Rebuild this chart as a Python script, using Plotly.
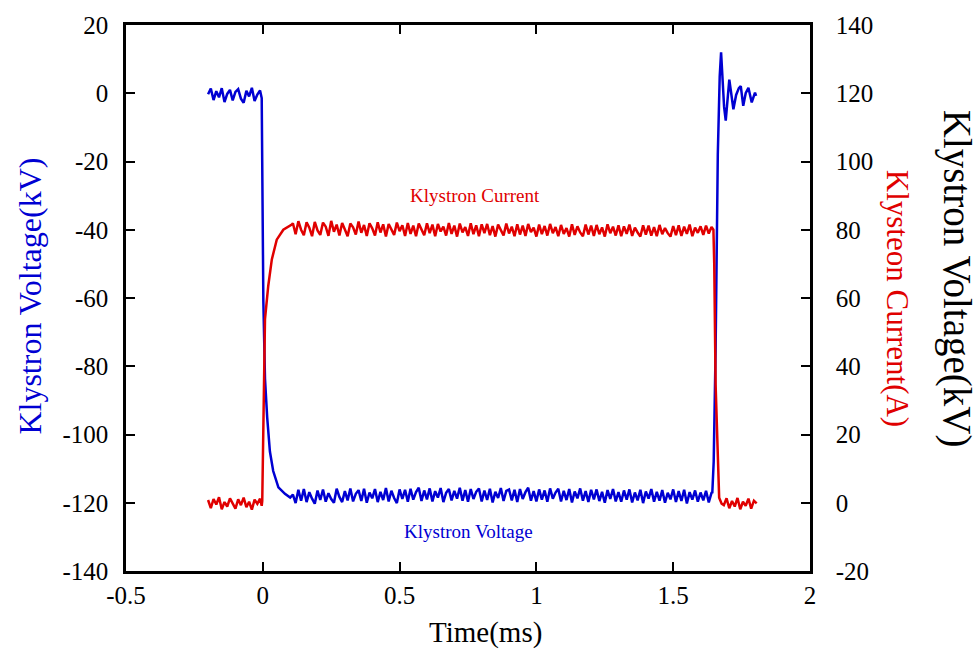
import plotly.graph_objects as go

# ---------------- data ----------------
# Klystron voltage (kV, left axis)
v_pre_t = [-0.20, -0.19, -0.18, -0.17, -0.16, -0.15, -0.14, -0.13, -0.12, -0.11,
           -0.10, -0.09, -0.08, -0.07, -0.06, -0.05, -0.04, -0.03, -0.02, -0.01, -0.004]
v_pre = [-0.3, 1.4, -2.0, 0.6, -1.2, 1.5, -2.6, -0.2, 1.0, -2.1,
         0.4, 1.2, -1.6, -2.8, 0.7, -0.9, 1.6, -2.3, -0.4, 0.8, -1.4]

v_fall_t = [-0.002, 0.002, 0.008, 0.016, 0.026, 0.038, 0.057, 0.081, 0.10]
v_fall = [-17.7, -61.0, -83.6, -95.0, -105.0, -110.7, -115.5, -117.4, -118.5]

flat_t = [0.11, 0.12, 0.13, 0.14, 0.15, 0.16, 0.17, 0.18, 0.19, 0.20,
          0.21, 0.22, 0.23, 0.24, 0.25, 0.26, 0.27, 0.28, 0.29, 0.30,
          0.31, 0.32, 0.33, 0.34, 0.35, 0.36, 0.37, 0.38, 0.39, 0.40,
          0.41, 0.42, 0.43, 0.44, 0.45, 0.46, 0.47, 0.48, 0.49, 0.50,
          0.51, 0.52, 0.53, 0.54, 0.55, 0.56, 0.57, 0.58, 0.59, 0.60,
          0.61, 0.62, 0.63, 0.64, 0.65, 0.66, 0.67, 0.68, 0.69, 0.70,
          0.71, 0.72, 0.73, 0.74, 0.75, 0.76, 0.77, 0.78, 0.79, 0.80,
          0.81, 0.82, 0.83, 0.84, 0.85, 0.86, 0.87, 0.88, 0.89, 0.90,
          0.91, 0.92, 0.93, 0.94, 0.95, 0.96, 0.97, 0.98, 0.99, 1.00,
          1.01, 1.02, 1.03, 1.04, 1.05, 1.06, 1.07, 1.08, 1.09, 1.10,
          1.11, 1.12, 1.13, 1.14, 1.15, 1.16, 1.17, 1.18, 1.19, 1.20,
          1.21, 1.22, 1.23, 1.24, 1.25, 1.26, 1.27, 1.28, 1.29, 1.30,
          1.31, 1.32, 1.33, 1.34, 1.35, 1.36, 1.37, 1.38, 1.39, 1.40,
          1.41, 1.42, 1.43, 1.44, 1.45, 1.46, 1.47, 1.48, 1.49, 1.50,
          1.51, 1.52, 1.53, 1.54, 1.55, 1.56, 1.57, 1.58, 1.59, 1.60,
          1.61, 1.62, 1.63, 1.64]

v_flat = [-117.6, -120.1, -116.2, -119.4, -116.0, -119.8, -116.9, -118.8, -120.3, -116.4,
          -119.2, -116.1, -119.7, -117.2, -118.9, -120.0, -115.9, -118.3, -119.8, -116.6,
          -119.3, -115.8, -119.6, -117.4, -116.3, -119.5, -115.9, -120.0, -117.0, -118.7,
          -116.0, -119.8, -116.8, -119.2, -115.7, -119.6, -116.5, -118.6, -120.1, -116.1,
          -118.9, -116.2, -119.7, -115.9, -119.1, -116.9, -115.6, -119.5, -116.4, -119.0,
          -115.8, -119.6, -116.6, -118.5, -115.7, -119.8, -117.1, -116.0, -119.3, -116.5,
          -118.8, -115.6, -119.4, -116.3, -119.7, -116.0, -118.9, -116.8, -115.8, -119.6,
          -116.4, -119.2, -115.9, -119.9, -116.8, -118.6, -115.7, -119.5, -116.5, -116.1,
          -119.3, -116.2, -119.8, -116.0, -118.9, -116.9, -115.6, -119.4, -116.6, -119.6,
          -116.1, -119.1, -116.4, -119.7, -115.8, -118.8, -117.0, -115.9, -119.6, -116.5,
          -119.2, -116.0, -119.9, -116.7, -118.7, -115.8, -119.4, -116.6, -119.8, -116.2,
          -119.0, -116.1, -119.5, -116.8, -120.0, -116.3, -118.9, -116.0, -119.6, -116.9,
          -119.7, -116.4, -119.1, -116.1, -119.9, -117.0, -119.3, -116.2, -120.1, -116.7,
          -118.8, -116.0, -119.7, -116.8, -119.4, -116.3, -120.0, -117.1, -119.0, -116.1,
          -119.8, -116.6, -119.5, -116.2, -120.2, -116.9, -119.1, -116.4, -119.7, -117.0,
          -119.3, -116.5, -119.9, -117.1]

v_rise_t = [1.643, 1.648, 1.655, 1.663, 1.670, 1.675, 1.680, 1.686, 1.692, 1.698,
            1.705, 1.712, 1.720, 1.730, 1.740, 1.747, 1.756, 1.765, 1.775, 1.787,
            1.799, 1.803]
v_rise = [-117.0, -108.0, -75.0, -18.0, 5.0, 12.0, 5.0, -4.0, -8.0, -2.0,
          4.0, 0.0, -4.7, -0.5, 1.5, 2.1, -3.7, 0.0, 1.6, -2.7,
          0.2, -0.8]

# Klystron current (A, right axis)
i_pre_t = v_pre_t
i_pre = [0.8, -1.6, 1.1, -0.5, 1.6, -1.9, 0.2, -1.1, 1.3, -0.2,
         -1.7, 1.0, -0.7, 1.5, -1.3, 0.3, -2.0, 0.9, -0.3, 1.2, -0.9]

i_rise_t = [-0.002, 0.002, 0.008, 0.020, 0.033, 0.051, 0.075, 0.106]
i_rise = [0.5, 24.8, 53.8, 63.6, 71.3, 77.1, 80.0, 81.5]

i_flat = [81.9, 78.7, 82.5, 80.0, 78.4, 82.2, 80.6, 78.1, 82.3, 79.8,
          78.5, 82.1, 80.9, 78.2, 82.6, 79.4, 81.5, 78.3, 82.0, 80.1,
          78.1, 81.8, 80.7, 78.6, 82.4, 79.1, 81.4, 78.2, 81.9, 80.4,
          78.3, 82.2, 79.2, 81.6, 78.0, 81.7, 80.3, 78.5, 82.1, 79.6,
          81.3, 78.2, 82.0, 78.8, 81.2, 78.1, 81.8, 79.9, 78.4, 81.9,
          79.0, 81.5, 78.1, 81.7, 79.5, 80.9, 78.3, 82.0, 78.8, 81.2,
          78.0, 81.8, 79.2, 80.8, 78.2, 81.9, 78.7, 81.3, 78.1, 81.6,
          79.0, 81.7, 78.4, 81.1, 78.0, 81.5, 79.8, 78.3, 81.8, 78.9,
          80.9, 78.1, 81.6, 78.6, 81.2, 78.2, 81.7, 79.3, 80.6, 78.0,
          81.5, 78.7, 81.1, 78.3, 81.7, 79.0, 80.8, 78.1, 81.4, 78.8,
          80.5, 78.0, 81.6, 78.5, 81.0, 79.2, 78.1, 81.5, 78.6, 81.2,
          78.2, 81.4, 78.7, 80.7, 78.0, 81.6, 79.0, 80.9, 78.3, 81.3,
          78.1, 81.0, 78.8, 81.5, 78.2, 80.6, 79.2, 78.0, 81.3, 78.6,
          81.2, 78.3, 80.8, 78.1, 81.4, 78.7, 80.5, 79.0, 78.0, 81.1,
          78.4, 81.3, 78.2, 80.9, 78.8, 81.5, 78.1, 80.6, 79.1, 81.0,
          78.5, 81.2, 78.9, 80.8]

i_fall_t = [1.647, 1.650, 1.655, 1.663, 1.668, 1.677,
            1.685, 1.695, 1.705, 1.715, 1.725, 1.735, 1.745, 1.755, 1.765, 1.775,
            1.785, 1.795, 1.805]
i_fall = [80.0, 70.0, 34.6, 10.2, 1.5, -0.3,
          -0.7, 1.3, -1.6, 0.5, -1.1, 1.4, -1.9, 0.3, -0.9, 1.2,
          -1.7, 0.6, -0.2]

x_ticks = [-0.5, 0, 0.5, 1, 1.5, 2]
x_tick_text = ["-0.5", "0", "0.5", "1", "1.5", "2"]
yl_ticks = [-140, -120, -100, -80, -60, -40, -20, 0, 20]
yl_tick_text = ["-140", "-120", "-100", "-80", "-60", "-40", "-20", "0", "20"]
yr_ticks = [-20, 0, 20, 40, 60, 80, 100, 120, 140]
yr_tick_text = ["-20", "0", "20", "40", "60", "80", "100", "120", "140"]

# ---------------- figure ----------------
BLUE = "#0000d2"
RED = "#e00000"
FONT = "Liberation Serif, Times New Roman, serif"

volt_t = v_pre_t + v_fall_t + flat_t + v_rise_t
volt = v_pre + v_fall + v_flat + v_rise
curr_t = i_pre_t + i_rise_t + flat_t + i_fall_t
curr = i_pre + i_rise + i_flat + i_fall

fig = go.Figure()
fig.add_trace(go.Scatter(x=curr_t, y=curr, mode="lines", yaxis="y2",
                         line=dict(color=RED, width=2.5), name="Klystron Current"))
fig.add_trace(go.Scatter(x=volt_t, y=volt, mode="lines", yaxis="y",
                         line=dict(color=BLUE, width=2.5), name="Klystron Voltage"))

axis_common = dict(showline=True, linecolor="black", linewidth=2.5,
                   ticks="inside", ticklen=9, tickwidth=2, tickcolor="black",
                   showgrid=False, zeroline=False,
                   tickfont=dict(family=FONT, size=25, color="black"))

fig.update_layout(
    width=980, height=651,
    margin=dict(l=126, r=170, t=20, b=80),
    paper_bgcolor="white", plot_bgcolor="white",
    showlegend=False,
    font=dict(family=FONT, color="black"),
    xaxis=dict(range=[-0.5, 2], tickvals=x_ticks, ticktext=x_tick_text,
               mirror="ticks", ticklabelstandoff=0, **axis_common),
    yaxis=dict(range=[-140, 20], tickvals=yl_ticks, ticktext=yl_tick_text, mirror=True,
               ticklabelstandoff=10, **axis_common),
    yaxis2=dict(range=[-20, 140], tickvals=yr_ticks, ticktext=yr_tick_text,
                overlaying="y", side="right", ticklabelstandoff=18, **axis_common),
    annotations=[
        dict(text="Time(ms)", x=0.525, y=-0.112, xref="paper", yref="paper",
             showarrow=False, font=dict(family=FONT, size=29, color="black"),
             xanchor="center", yanchor="middle"),
        dict(text="Klystron Voltage(kV)", x=-0.140, y=0.503, xref="paper", yref="paper",
             showarrow=False, textangle=-90, font=dict(family=FONT, size=32, color=BLUE),
             xanchor="center", yanchor="middle"),
        dict(text="Klysteon Current(A)", x=1.129, y=0.50, xref="paper", yref="paper",
             showarrow=False, textangle=90, font=dict(family=FONT, size=31, color=RED),
             xanchor="center", yanchor="middle"),
        dict(text="Klystron Voltage(kV)", x=1.215, y=0.535, xref="paper", yref="paper",
             showarrow=False, textangle=90, font=dict(family=FONT, size=39, color="black"),
             xanchor="center", yanchor="middle"),
        dict(text="Klystron Current", x=0.776, y=-29.9, xref="x", yref="y",
             showarrow=False, font=dict(family=FONT, size=19, color=RED),
             xanchor="center", yanchor="middle"),
        dict(text="Klystron Voltage", x=0.75, y=-128.4, xref="x", yref="y",
             showarrow=False, font=dict(family=FONT, size=19, color=BLUE),
             xanchor="center", yanchor="middle"),
    ],
)

fig.write_html("out.html", config={"displayModeBar": False},
               post_script="document.body.style.margin='0';document.body.style.padding='0';")
